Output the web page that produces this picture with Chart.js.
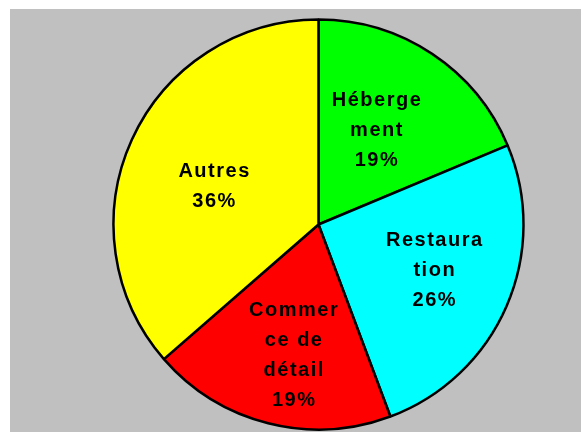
<!DOCTYPE html>
<html>
<head>
<meta charset="utf-8">
<script src="https://cdn.jsdelivr.net/npm/chart.js@4/dist/chart.umd.min.js"></script>
<style>
  body { margin: 0; background: #ffffff; }
  #wrap { position: absolute; left: 10px; top: 9px; width: 571px; height: 423px; background: #c0c0c0; }
</style>
</head>
<body>
<div id="wrap"><canvas id="pie" width="571" height="423"></canvas></div>
<script>
// categories (label text broken over lines like in the original)
const categories = [
  ["Héberge", "ment"],
  ["Restaura", "tion"],
  ["Commer", "ce de", "détail"],
  ["Autres"]
];
// share of each category, in percent
const shares = [18.7, 25.6, 19.3, 36.4];
const sliceColors = ["#00ff00", "#00ffff", "#ff0000", "#ffff00"];
// how far out each label sits, as a fraction of the radius
const labelDist = [0.55, 0.6, 0.635, 0.55];

// draws the text labels inside each slice
const sliceLabels = {
  id: "sliceLabels",
  afterDatasetsDraw(chart) {
    const ctx = chart.ctx;
    const meta = chart.getDatasetMeta(0);
    ctx.save();
    ctx.font = "bold 20px 'Liberation Sans', Arial, sans-serif";
    ctx.fillStyle = "#000000";
    ctx.textAlign = "center";
    ctx.textBaseline = "middle";
    if ("letterSpacing" in ctx) ctx.letterSpacing = "1.5px";
    meta.data.forEach((arc, i) => {
      const p = arc.getProps(["x", "y", "startAngle", "endAngle", "outerRadius"], true);
      const mid = (p.startAngle + p.endAngle) / 2 - 3 * Math.PI / 180;
      const r = p.outerRadius * labelDist[i];
      const cx = p.x + Math.cos(mid) * r;
      const cy = p.y + Math.sin(mid) * r + 3;
      const lines = categories[i].concat([Math.round(shares[i]) + "%"]);
      const lh = 30;
      const top = cy - (lines.length - 1) * lh / 2;
      lines.forEach((t, k) => {
        ctx.fillText(t, cx + 1, top + k * lh);
      });
    });
    ctx.restore();
  }
};

var ctx = document.getElementById("pie").getContext("2d");
var myPie = new Chart(ctx, {
  type: "pie",
  data: {
    labels: categories.map((c) => c.join("")),
    datasets: [
      {
        data: shares,
        backgroundColor: sliceColors,
        borderColor: "#000000",
        borderWidth: 2.5
      }
    ]
  },
  options: {
    responsive: false,
    animation: false,
    radius: 205,
    layout: {
      padding: { left: 100, right: 54, top: 8, bottom: 0 }
    },
    plugins: {
      legend: { display: false },
      tooltip: { enabled: false }
    }
  },
  plugins: [sliceLabels]
});
</script>
</body>
</html>
